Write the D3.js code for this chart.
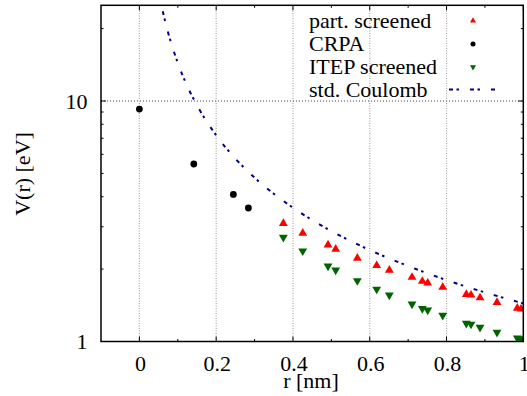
<!DOCTYPE html>
<html>
<head>
<meta charset="utf-8">
<script src="https://cdn.jsdelivr.net/npm/d3@7"></script>
<style>
body { margin: 0; background: #fff; }
</style>
</head>
<body>
<script>
// Data
var rPart = [0.375, 0.4255, 0.4914, 0.5113, 0.5677, 0.6181, 0.651, 0.7101, 0.737, 0.751, 0.7901, 0.8516, 0.8638, 0.8872, 0.9315, 0.9844, 0.994];
var vPart = [3.10, 2.82, 2.52, 2.42, 2.22, 2.07, 1.98, 1.85, 1.78, 1.75, 1.68, 1.57, 1.56, 1.52, 1.455, 1.377, 1.365];

var rCrpa = [0, 0.1417, 0.2448, 0.2839];
var vCrpa = [9.26, 5.47, 4.09, 3.59];

var rItep = [0.375, 0.4255, 0.4914, 0.5113, 0.5677, 0.6181, 0.651, 0.7101, 0.737, 0.751, 0.7901, 0.8516, 0.8638, 0.8872, 0.9315, 0.9844, 0.994];
var vItep = [2.71, 2.38, 2.06, 1.98, 1.79, 1.65, 1.56, 1.43, 1.37, 1.35, 1.285, 1.19, 1.18, 1.146, 1.092, 1.034, 1.027];

var rCoul = [0.05, 0.0625, 0.075, 0.0875, 0.1, 0.125, 0.15, 0.2, 0.25, 0.3, 0.4, 0.5, 0.6, 0.7, 0.8, 0.9, 1.0];
var vCoul = [28.8, 23.0, 19.2, 16.5, 14.4, 11.5, 9.6, 7.2, 5.76, 4.8, 3.6, 2.88, 2.4, 2.06, 1.8, 1.6, 1.44];

var xTicks = [0, 0.2, 0.4, 0.6, 0.8, 1];
var xMinor = [0.1, 0.3, 0.5, 0.7, 0.9];
var yTicks = [1, 10];
var yMinor = [2, 3, 4, 5, 6, 7, 8, 9, 20];
var xGrid = [0, 0.2, 0.4, 0.6, 0.8];
var yGrid = [10];

var legendNames = ["part. screened", "CRPA", "ITEP screened", "std. Coulomb"];

	/*
	 * Bounds of component.
	 */
	var width = 527,
    height = 396,
    margin = {left: 101, right: 3.7, top: 5.3, bottom: 54.5},
    font = "'Liberation Serif', 'Times New Roman', Times, serif",
    fontSize = "22px";

	var svg = d3.select("body").append("svg")
		.attr("width", width)
		.attr("height", height)
		.style("font-family", font);

	var x = d3.scaleLinear()
		.domain([-0.1, 1.0])
		.range([margin.left, width - margin.right]);

	var y = d3.scaleLog()
		.domain([1, 25])
		.range([height - margin.bottom, margin.top]);

	var x0 = x.range()[0], x1 = x.range()[1],
		y0 = y.range()[0], y1 = y.range()[1];

	svg.append("clipPath").attr("id", "clip")
		.append("rect")
		.attr("x", x0).attr("y", y1)
		.attr("width", x1 - x0).attr("height", y0 - y1);

	/*
	 * Grid.
	 */
	svg.append("g").selectAll("line")
		.data(xGrid)
		.enter().append("line")
		.attr("x1", function(d) { return x(d); })
		.attr("x2", function(d) { return x(d); })
		.attr("y1", y0).attr("y2", y1)
		.style("stroke", "#a8a8a8")
		.style("stroke-width", 1.2)
		.style("stroke-dasharray", "1,1.5");

	svg.append("g").selectAll("line")
		.data(yGrid)
		.enter().append("line")
		.attr("x1", x0).attr("x2", x1)
		.attr("y1", function(d) { return y(d); })
		.attr("y2", function(d) { return y(d); })
		.style("stroke", "#444")
		.style("stroke-width", 1)
		.style("stroke-dasharray", "1,2");

	/*
	 * Ticks on all four sides, pointing inward.
	 */
	var ticks = svg.append("g").style("stroke", "#000").style("stroke-width", 1);

	function xTickLines(vals, len) {
		vals.forEach(function(v) {
			ticks.append("line").attr("x1", x(v)).attr("x2", x(v)).attr("y1", y0).attr("y2", y0 - len);
			ticks.append("line").attr("x1", x(v)).attr("x2", x(v)).attr("y1", y1).attr("y2", y1 + len);
		});
	}
	function yTickLines(vals, len) {
		vals.forEach(function(v) {
			ticks.append("line").attr("y1", y(v)).attr("y2", y(v)).attr("x1", x0).attr("x2", x0 + len);
			ticks.append("line").attr("y1", y(v)).attr("y2", y(v)).attr("x1", x1).attr("x2", x1 - len);
		});
	}
	xTickLines(xTicks, 5);
	xTickLines(xMinor, 2.5);
	yTickLines(yTicks, 5);
	yTickLines(yMinor, 2.5);

	/*
	 * Tick labels.
	 */
	svg.append("g").selectAll("text")
		.data(xTicks)
		.enter().append("text")
		.attr("x", function(d) { return x(d) + 1; })
		.attr("y", 371)
		.style("text-anchor", "middle")
		.style("font-size", fontSize)
		.text(function(d) { return d3.format("")(d); });

	svg.append("g").selectAll("text")
		.data(yTicks)
		.enter().append("text")
		.attr("x", 87.5)
		.attr("y", function(d) { return y(d); })
		.attr("dy", "0.36em")
		.style("text-anchor", "end")
		.style("font-size", fontSize)
		.text(function(d) { return d; });

	/*
	 * Axis titles.
	 */
	svg.append("text")
		.attr("x", 311)
		.attr("y", 388)
		.style("text-anchor", "middle")
		.style("font-size", fontSize)
		.text("r [nm]");

	svg.append("text")
		.attr("transform", "translate(29.5,174) rotate(-90)")
		.style("text-anchor", "middle")
		.style("font-size", fontSize)
		.text("V(r) [eV]");

	/*
	 * Series.
	 */
	var plot = svg.append("g").attr("clip-path", "url(#clip)");

	var line = d3.line()
		.x(function(d) { return x(d[0]); })
		.y(function(d) { return y(d[1]); })
		.curve(d3.curveMonotoneX);

	plot.append("path")
		.datum(d3.zip(rCoul, vCoul))
		.attr("d", line)
		.style("fill", "none")
		.style("stroke", "#00008b")
		.style("stroke-width", 2)
		.style("stroke-dasharray", "4,3.5,2.5,11");

	var triUp = d3.symbol().type(d3.symbolTriangle).size(34);

	plot.selectAll(".part")
		.data(d3.zip(rPart, vPart))
		.enter().append("path")
		.attr("class", "part")
		.attr("transform", function(d) { return "translate(" + x(d[0]) + "," + y(d[1]) + ")"; })
		.attr("d", triUp)
		.style("fill", "#ff0000");

	plot.selectAll(".itep")
		.data(d3.zip(rItep, vItep))
		.enter().append("path")
		.attr("class", "itep")
		.attr("transform", function(d) { return "translate(" + x(d[0]) + "," + y(d[1]) + ") rotate(180)"; })
		.attr("d", triUp)
		.style("fill", "#006400");

	plot.selectAll(".crpa")
		.data(d3.zip(rCrpa, vCrpa))
		.enter().append("circle")
		.attr("class", "crpa")
		.attr("cx", function(d) { return x(d[0]); })
		.attr("cy", function(d) { return y(d[1]); })
		.attr("r", 3.4)
		.style("fill", "#000");

	/*
	 * Legend.
	 */
	var legend = svg.append("g");
	var legendY = [20.7, 44, 67, 89.5];

	legend.selectAll("text")
		.data(legendNames)
		.enter().append("text")
		.attr("x", 309)
		.attr("y", function(d, i) { return legendY[i]; })
		.attr("dy", "0.34em")
		.style("font-size", fontSize)
		.text(function(d) { return d; });

	var smallTri = d3.symbol().type(d3.symbolTriangle).size(16);
	legend.append("path").attr("d", smallTri)
		.attr("transform", "translate(473," + legendY[0] + ")")
		.style("fill", "#ff0000");
	legend.append("circle")
		.attr("cx", 473).attr("cy", legendY[1]).attr("r", 2.5)
		.style("fill", "#000");
	legend.append("path").attr("d", smallTri)
		.attr("transform", "translate(473," + legendY[2] + ") rotate(180)")
		.style("fill", "#006400");
	legend.append("line")
		.attr("x1", 449).attr("x2", 496)
		.attr("y1", legendY[3]).attr("y2", legendY[3])
		.style("stroke", "#00008b")
		.style("stroke-width", 2)
		.style("stroke-dasharray", "4,3.5,2.5,11");

	/*
	 * Frame.
	 */
	svg.append("rect")
		.attr("x", x0).attr("y", y1)
		.attr("width", x1 - x0).attr("height", y0 - y1)
		.style("fill", "none")
		.style("stroke", "#000")
		.style("stroke-width", 1.5);
</script>
</body>
</html>
